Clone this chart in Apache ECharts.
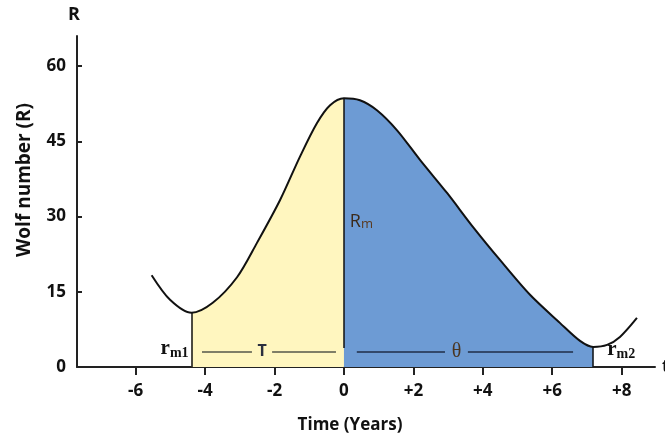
<!DOCTYPE html>
<html lang="en">
<head>
  <meta charset="UTF-8">
  <title>Wolf number cycle</title>
  <script src="https://cdn.jsdelivr.net/npm/echarts@6.0.0/dist/echarts.min.js"></script>
</head>
<body style="margin:0">
  <div id="main" style="width:665px;height:437px;"></div>
  <script>
    // curve: time (years) vs Wolf number R
    var timeYears = [-5.54, -5.01, -4.39, -3.78, -3.08, -2.51, -1.84, -1.27, -0.78, -0.40, 0,
      0.46, 0.95, 1.53, 2.19, 2.97, 3.72, 4.50, 5.36, 6.22, 6.80, 7.18, 7.58, 7.95, 8.44];
    var wolfR = [18.3, 13.4, 10.8, 12.8, 17.9, 24.7, 33.3, 41.9, 48.6, 52.2, 53.6,
      53.2, 51.2, 47.2, 41.3, 34.7, 27.9, 21.3, 14.4, 8.8, 5.2, 4.0, 4.4, 6.0, 9.8];
    var xTicks = [-6, -4, -2, 0, 2, 4, 6, 8];
    var yTicks = [0, 15, 30, 45, 60];
    var minIdx1 = 2;   // r_m1
    var maxIdx = 10;   // R_m
    var minIdx2 = 21;  // r_m2
    // rise time T and decline time theta, drawn as broken bars with the letter in the gap
    var tSpan = [-4.09, -2.65, -2.07, -0.23];
    var thetaSpan = [0.37, 2.91, 3.57, 6.6];
    var spanLevel = 3.1;

    var yellow = '#fff6bf';
    var blue = '#6d9bd4';

    var pairs = timeYears.map(function (t, i) { return [t, wolfR[i]]; });
    var risePart = pairs.slice(minIdx1, maxIdx + 1);
    var fallPart = pairs.slice(maxIdx, minIdx2 + 1);

    var font = '"Open Sans", sans-serif';
    var subRich = {
      r: { fontFamily: '"Liberation Serif", serif', fontWeight: 'bold', fontSize: 21, color: '#111' },
      s: { fontFamily: '"Liberation Serif", serif', fontWeight: 'bold', fontSize: 14, color: '#111', padding: [8, 0, 0, 0] }
    };

    function bar(span, a, b, color) {
      return [{ coord: [span[a], spanLevel], lineStyle: { color: color, width: 1.5 } },
        { coord: [span[b], spanLevel] }];
    }

    var myChart = echarts.init(document.getElementById('main'));
    var option = {
      animation: false,
      backgroundColor: '#fff',
      grid: { left: 77, right: 10, top: 36, bottom: 70, outerBoundsMode: 'none' },
      xAxis: {
        type: 'value',
        min: -7.69,
        max: 8.96,
        name: 't',
        nameLocation: 'end',
        nameGap: 7,
        nameTextStyle: { fontFamily: font, fontWeight: 'bold', fontSize: 17, color: '#111' },
        axisLine: { onZero: false, lineStyle: { color: '#222', width: 2 } },
        axisTick: { customValues: xTicks, length: 8, lineStyle: { color: '#222', width: 2 } },
        axisLabel: {
          customValues: xTicks,
          margin: 16,
          fontFamily: font, fontWeight: 'bold', fontSize: 17, color: '#111',
          formatter: function (v) { return v > 0 ? '+' + v : '' + v; }
        },
        splitLine: { show: false }
      },
      yAxis: {
        type: 'value',
        min: 0,
        max: 66,
        name: 'R',
        nameLocation: 'end',
        nameGap: 12,
        nameTextStyle: { fontFamily: font, fontWeight: 'bold', fontSize: 18, color: '#111', padding: [0, 6, 0, 0] },
        axisLine: { show: true, onZero: false, lineStyle: { color: '#222', width: 2 } },
        axisTick: { show: true, inside: true, customValues: yTicks, length: 5, lineStyle: { color: '#222', width: 2 } },
        axisLabel: {
          customValues: yTicks,
          margin: 11,
          fontFamily: font, fontWeight: 'bold', fontSize: 17, color: '#111'
        },
        splitLine: { show: false }
      },
      graphic: [
        {
          type: 'text', x: 25, y: 180, rotation: Math.PI / 2,
          style: { text: 'Wolf number (R)', textAlign: 'center', textVerticalAlign: 'middle',
            font: 'bold 19px ' + font, fill: '#111' }
        },
        {
          type: 'text', x: 350, y: 425,
          style: { text: 'Time (Years)', textAlign: 'center', textVerticalAlign: 'middle',
            font: 'bold 17px ' + font, fill: '#111' }
        }
      ],
      series: [
        { // rise phase fill
          type: 'line', data: risePart, smooth: 0.3, symbol: 'none', silent: true,
          lineStyle: { width: 0 }, areaStyle: { color: yellow, opacity: 1 }, z: 1
        },
        { // decline phase fill
          type: 'line', data: fallPart, smooth: 0.3, symbol: 'none', silent: true,
          lineStyle: { width: 0 }, areaStyle: { color: blue, opacity: 1 }, z: 1
        },
        { // the cycle curve
          type: 'line', data: pairs, smooth: 0.3, symbol: 'none', silent: true,
          lineStyle: { color: '#111', width: 2 }, z: 3,
          markLine: {
            silent: true,
            symbol: ['none', 'none'],
            label: { show: false },
            lineStyle: { color: '#111', width: 1.5, type: 'solid' },
            data: [
              [{ coord: [timeYears[minIdx1], 0] }, { coord: [timeYears[minIdx1], wolfR[minIdx1]] }],
              [{ coord: [timeYears[maxIdx], 3.8] }, { coord: [timeYears[maxIdx], wolfR[maxIdx]] }],
              [{ coord: [timeYears[minIdx2], 0] }, { coord: [timeYears[minIdx2], wolfR[minIdx2]] }],
              bar(tSpan, 0, 1, '#55564a'),
              bar(tSpan, 2, 3, '#55564a'),
              bar(thetaSpan, 0, 1, '#1f2d47'),
              bar(thetaSpan, 2, 3, '#1f2d47')
            ]
          },
          markPoint: {
            silent: true,
            symbol: 'circle',
            symbolSize: 0,
            data: [
              { coord: [timeYears[minIdx1], 3.6],
                label: { show: true, position: 'left', distance: 3, formatter: '{r|r}{s|m1}', rich: subRich } },
              { coord: [timeYears[minIdx2], 3.4],
                label: { show: true, position: 'right', distance: 14, formatter: '{r|r}{s|m2}', rich: subRich } },
              { coord: [0.17, 28.9],
                label: { show: true, position: 'right', distance: 0, formatter: '{a|R}{b|m}',
                  rich: {
                    a: { fontFamily: font, fontSize: 18, color: '#3b2a1a' },
                    b: { fontFamily: font, fontSize: 13, color: '#5a3a20', padding: [5, 0, 0, 0] }
                  } } },
              { coord: [(tSpan[1] + tSpan[2]) / 2, spanLevel],
                label: { show: true, position: 'inside', formatter: 'T',
                  fontFamily: font, fontWeight: 'bold', fontSize: 16, color: '#2b2f3f' } },
              { coord: [(thetaSpan[1] + thetaSpan[2]) / 2, spanLevel],
                label: { show: true, position: 'inside', formatter: '\u03b8',
                  fontFamily: '"Liberation Serif", serif', fontSize: 20, color: '#4a3520' } }
            ]
          }
        }
      ]
    };
    myChart.setOption(option);
  </script>
</body>
</html>
